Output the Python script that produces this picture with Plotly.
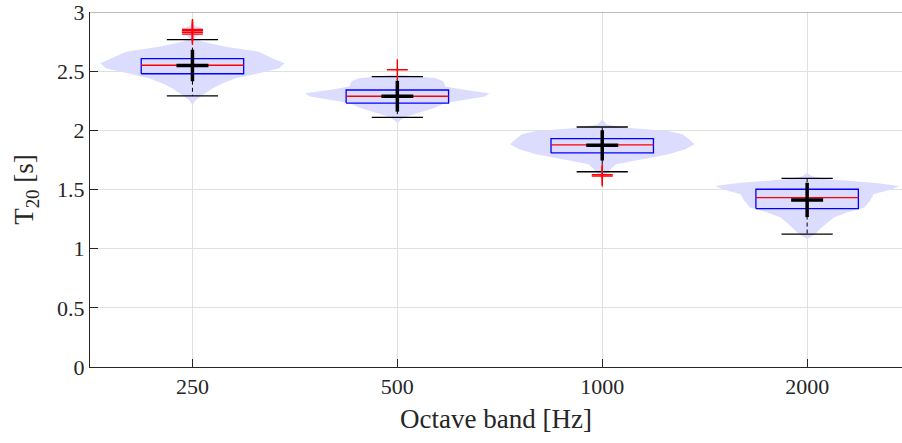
import plotly.graph_objects as go

# Reverberation time T20 per octave band: box-plot statistics
bands = ["250", "500", "1000", "2000"]
q1 = [2.478, 2.230, 1.809, 1.339]
median = [2.550, 2.288, 1.877, 1.431]
q3 = [2.606, 2.341, 1.930, 1.502]
whisker_low = [2.292, 2.110, 1.650, 1.123]
whisker_high = [2.767, 2.454, 2.028, 1.594]
mean = [2.548, 2.288, 1.873, 1.412]
std = [0.133, 0.130, 0.128, 0.145]
outliers = [[2.813, 2.828, 2.842, 2.852], [2.512], [1.614, 1.626], []]

# Kernel-density outlines (T20 value, relative density) for each band
violin_y = [
    [2.216, 2.258, 2.314, 2.356, 2.398, 2.440, 2.482, 2.524, 2.566, 2.608, 2.664,
     2.706, 2.748, 2.776, 2.800, 2.830, 2.860, 2.893],
    [2.062, 2.090, 2.118, 2.146, 2.188, 2.230, 2.258, 2.286, 2.314, 2.342, 2.370,
     2.412, 2.440, 2.458, 2.472],
    [1.574, 1.603, 1.644, 1.672, 1.714, 1.756, 1.798, 1.840, 1.882, 1.924, 1.966,
     1.994, 2.022, 2.050, 2.092],
    [1.082, 1.124, 1.166, 1.207, 1.263, 1.305, 1.347, 1.403, 1.460, 1.502, 1.529,
     1.557, 1.586, 1.613, 1.641],
]
violin_density = [
    [0.00, 0.04, 0.14, 0.22, 0.33, 0.47, 0.72, 0.94, 1.00, 0.87, 0.72,
     0.36, 0.11, 0.03, 0.06, 0.12, 0.11, 0.00],
    [0.00, 0.04, 0.11, 0.22, 0.40, 0.52, 0.72, 0.95, 1.00, 0.72, 0.52,
     0.50, 0.42, 0.20, 0.00],
    [0.00, 0.02, 0.06, 0.09, 0.15, 0.43, 0.72, 0.90, 1.00, 0.94, 0.87,
     0.72, 0.25, 0.05, 0.00],
    [0.00, 0.09, 0.14, 0.20, 0.29, 0.43, 0.62, 0.68, 0.72, 0.92, 1.00,
     0.72, 0.22, 0.05, 0.00],
]

VIOLIN_HALF = 0.45
BOX_HALF = 0.25
CAP_HALF = 0.125
MEAN_HALF = 0.078

fig = go.Figure()

for i, band in enumerate(bands):
    pos = i + 1
    ys = violin_y[i]
    ds = violin_density[i]
    right = [pos + d * VIOLIN_HALF for d in ds]
    left = [pos - d * VIOLIN_HALF for d in ds]
    fig.add_trace(go.Scatter(
        x=right + left[::-1], y=ys + ys[::-1], mode="lines", fill="toself",
        fillcolor="rgb(220,220,255)", line=dict(width=0), hoverinfo="skip",
        showlegend=False))

for i, band in enumerate(bands):
    pos = i + 1
    # dashed whiskers
    fig.add_trace(go.Scatter(
        x=[pos, pos, None, pos, pos],
        y=[q3[i], whisker_high[i], None, q1[i], whisker_low[i]],
        mode="lines", line=dict(color="black", width=1, dash="4px,3px"),
        hoverinfo="skip", showlegend=False))
    # whisker caps
    fig.add_trace(go.Scatter(
        x=[pos - CAP_HALF, pos + CAP_HALF, None, pos - CAP_HALF, pos + CAP_HALF],
        y=[whisker_high[i], whisker_high[i], None, whisker_low[i], whisker_low[i]],
        mode="lines", line=dict(color="black", width=1.3),
        hoverinfo="skip", showlegend=False))
    # box
    fig.add_trace(go.Scatter(
        x=[pos - BOX_HALF, pos + BOX_HALF, pos + BOX_HALF, pos - BOX_HALF, pos - BOX_HALF],
        y=[q1[i], q1[i], q3[i], q3[i], q1[i]],
        mode="lines", line=dict(color="rgb(0,0,255)", width=1.3),
        hoverinfo="skip", showlegend=False))
    # median
    fig.add_trace(go.Scatter(
        x=[pos - BOX_HALF, pos + BOX_HALF], y=[median[i], median[i]],
        mode="lines", line=dict(color="rgb(255,0,0)", width=1.3),
        hoverinfo="skip", showlegend=False))
    # mean +/- standard deviation
    fig.add_trace(go.Scatter(
        x=[pos - MEAN_HALF, pos + MEAN_HALF, None, pos, pos],
        y=[mean[i], mean[i], None, mean[i] - std[i], mean[i] + std[i]],
        mode="lines", line=dict(color="black", width=3.5),
        hoverinfo="skip", showlegend=False))
    # outliers
    if outliers[i]:
        fig.add_trace(go.Scatter(
            x=[pos] * len(outliers[i]), y=outliers[i], mode="markers",
            marker=dict(symbol="cross-thin", size=15,
                        line=dict(color="rgb(255,0,0)", width=1.4)),
            hoverinfo="skip", showlegend=False))

font_family = "Liberation Serif"
axis_color = "#262626"

fig.update_layout(
    width=902, height=443,
    margin=dict(l=90, r=0, t=10, b=76),
    paper_bgcolor="white", plot_bgcolor="white",
    font=dict(family=font_family, size=22, color=axis_color),
    xaxis=dict(
        range=[0.5, 4.463], tickmode="array", tickvals=[1, 2, 3, 4], ticktext=bands,
        showgrid=True, gridcolor="#e0e0e0", gridwidth=1,
        showline=True, linecolor=axis_color, linewidth=1,
        ticks="inside", ticklen=8, tickcolor=axis_color,
        zeroline=False, ticklabeloverflow="allow",
        title=dict(text="Octave band [Hz]", font=dict(size=27), standoff=10),
    ),
    yaxis=dict(
        range=[0, 3], tickmode="array", tickvals=[0, 0.5, 1, 1.5, 2, 2.5, 3],
        ticktext=["0", "0.5", "1", "1.5", "2", "2.5", "3"],
        showgrid=True, gridcolor="#e0e0e0", gridwidth=1,
        showline=True, linecolor=axis_color, linewidth=1,
        ticks="inside", ticklen=8, tickcolor=axis_color,
        zeroline=False, ticklabeloverflow="allow",
        title=dict(text="T<sub>20</sub> [s]", font=dict(size=27), standoff=15),
    ),
    shapes=[dict(type="line", xref="paper", yref="y", x0=0, x1=1, y0=3, y1=3,
                 line=dict(color="#7a7a7a", width=1.2), layer="above")],
)

fig.write_html("out.html")
